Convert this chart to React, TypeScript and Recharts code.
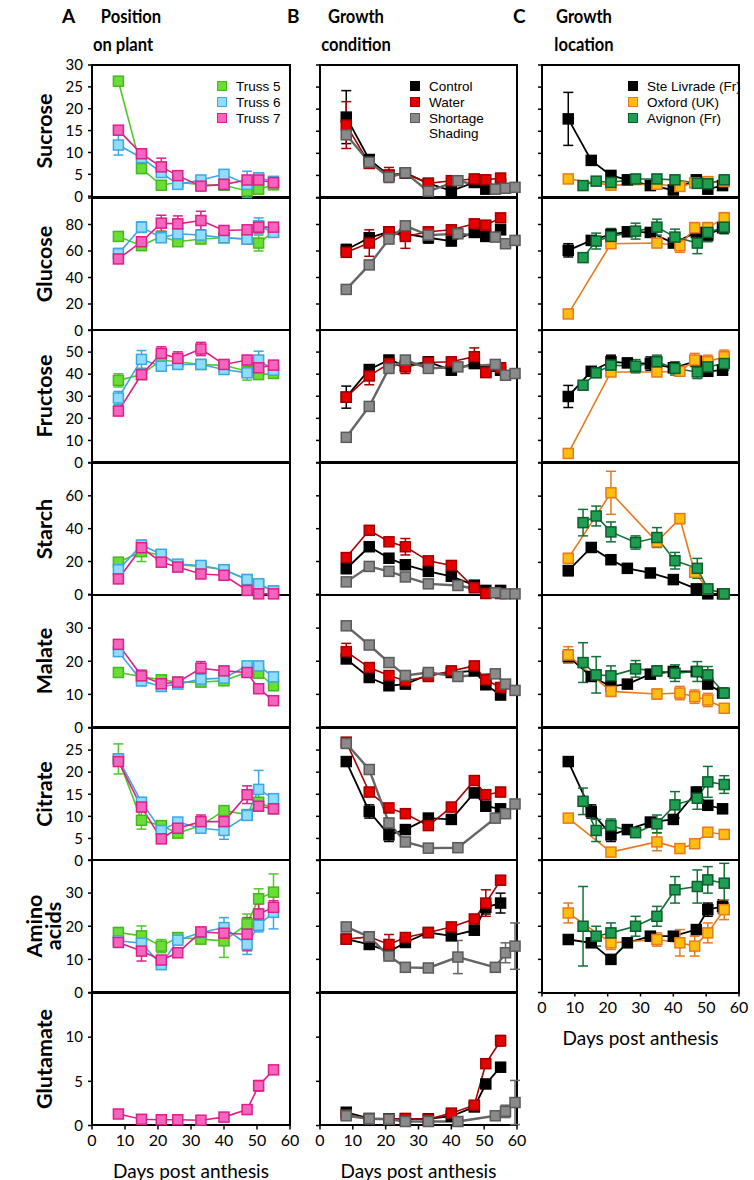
import React from "react";
import { LineChart, Line, XAxis, YAxis, ErrorBar } from "recharts";

// sampling days
const daysStd = [8, 15, 21, 26, 33, 40, 47, 50.5, 55];
const daysShade = [8, 15, 21, 26, 33, 42, 53.4, 56.5, 59.4];
const daysOxford = [8, 21, 35, 42, 46.5, 50.5, 55.5];
const daysAvignon = [12.5, 16.5, 21, 28.5, 35, 40.5, 47.3, 50.5, 55.5];

// axis ticks
const xTicks = [0, 10, 20, 30, 40, 50, 60];
const sucTicks = [0, 5, 10, 15, 20, 25, 30];
const gluTicks = [0, 20, 40, 60, 80, 100];
const fruTicks = [0, 10, 20, 30, 40, 50, 60];
const staTicks = [0, 20, 40, 60, 80];
const malTicks = [0, 10, 20, 30, 40];
const citTicks = [0, 5, 10, 15, 20, 25, 30];
const amiTicks = [0, 10, 20, 30, 40];
const gltTicks = [0, 5, 10, 15];

// A - position on plant
const sucT5 = [26.3, 6.3, 2.5, 3.2, 2.6, 2.5, 1.2, 1.6, 2.6];
const sucT6 = [11.7, 8.8, 5.4, 2.7, 3.7, 5.0, 2.7, 4.2, 3.4];
const sucT7 = [15.1, 9.7, 6.7, 4.7, 2.3, 2.7, 3.7, 3.7, 3.1];
const sucT5E = [0.8, 0.8, 0.5, 0.5, 0.5, 0.5, 0.8, 0.5, 0.5];
const sucT6E = [2.3, 1, 1, 0.5, 1, 1, 3, 1, 1];
const sucT7E = [0.8, 0.8, 2, 0.8, 0.8, 0.8, 0.8, 0.8, 0.8];
const gluT5 = [71, 64, 71, 67, 69, 70, 69, 66, 74.5];
const gluT6 = [58, 78, 70, 73, 72, 70, 69, 79, 74];
const gluT7 = [54, 67, 81, 80.5, 83, 75.5, 76, 78, 78];
const gluT5E = [3, 3, 3, 3, 3, 3, 3, 6, 3];
const gluT6E = [4, 4, 3, 3, 3, 3, 3, 6, 3];
const gluT7E = [3, 3, 6, 6, 7, 3, 3, 4, 3];
const fruT5 = [37.2, 39.8, 46.4, 45.6, 44.4, 44, 41.3, 39.8, 40.3];
const fruT6 = [29.2, 46.7, 43.6, 44.4, 44.4, 42.1, 40.6, 46.4, 41.8];
const fruT7 = [23.3, 39.8, 49.4, 47.1, 51.4, 44.4, 46.4, 42.9, 44.1];
const fruT5E = [3, 2, 2, 2, 2, 2, 4, 2, 2];
const fruT6E = [3, 4, 2, 2, 2, 2, 2, 4, 2];
const fruT7E = [2, 2, 3, 3, 3, 2, 2, 2, 2];
const staT5 = [19.6, 26, 24, 18, 17, 15, 9, 6, 2];
const staT6 = [15, 30, 24.4, 18.4, 17.6, 15, 9, 6.4, 2];
const staT7 = [9.4, 28.4, 19.6, 16.6, 12.4, 11.6, 2.4, 0.3, 0.3];
const staT5E = [2, 6, 2, 2, 2, 2, 2, 2, 1];
const staT6E = [2, 3, 2, 2, 2, 2, 2, 2, 1];
const staT7E = [2, 3, 2, 2, 2, 3, 2, 1, 1];
const malT5 = [16.6, 15.4, 14.4, 13.7, 13.7, 14.1, 16.7, 16.4, 12.6];
const malT6 = [22.9, 14.1, 12.4, 13.1, 14.6, 14.9, 18.6, 18.6, 15.3];
const malT7 = [25.1, 15.6, 13.2, 13.7, 17.9, 17.1, 16.6, 11.7, 8.1];
const malT5E = [1, 2, 1, 1, 1, 1, 1, 1, 1];
const malT6E = [1, 1.5, 1.5, 1, 1, 1, 1, 1, 1];
const malT7E = [1, 1, 1, 1, 2, 1, 1, 1, 1];
const citT5 = [23, 9.1, 7.9, 6.2, 7.9, 11.3, 10.4, 13.2, 11.7];
const citT6 = [23, 13.2, 6.8, 8.7, 7.3, 6.8, 10.2, 16.1, 14];
const citT7 = [22.4, 12.1, 4.9, 7.3, 8.8, 8.8, 14.9, 12.3, 11.7];
const citT5E = [3.4, 2, 1, 1, 1, 1, 1, 1, 1];
const citT6E = [1, 1, 1, 1, 1, 2, 1, 4.3, 1];
const citT7E = [1, 1, 1, 1, 1.5, 1, 2, 1, 1];
const amiT5 = [18.1, 17.1, 14, 16.6, 16.1, 15.6, 20.7, 28.3, 30.3];
const amiT6 = [15.6, 14.9, 8.4, 15.8, 18.1, 19.6, 14.5, 20.3, 24.2];
const amiT7 = [15.1, 12.5, 9.8, 12, 18.3, 17.9, 17.6, 23.7, 25.7];
const amiT5E = [1.5, 3, 2, 1, 1, 5, 3, 3, 5.5];
const amiT6E = [1, 1, 1, 1, 1, 3, 3, 2, 5];
const amiT7E = [1, 3, 1, 1, 1, 1, 5, 3, 2];
const gltT7 = [1.3, 0.7, 0.65, 0.65, 0.6, 0.95, 1.8, 4.5, 6.3];
const gltT7E = [0.2, 0.2, 0.2, 0.2, 0.2, 0.2, 0.3, 0.6, 0.3];

// B - growth condition
const sucCtl = [18.2, 8.6, 5, 5.5, 3.2, 1.5, 3.4, 1.9, 3.1];
const sucWat = [16.4, 7.7, 5.1, 5.6, 3.2, 3.8, 4.2, 4, 4.4];
const sucShd = [14.2, 8, 4.6, 5.6, 1.4, 3.8, 1.9, 2.1, 2.3];
const sucCtlE = [6, 1, 1, 1, 1, 1, 1, 1, 1];
const sucWatE = [5.3, 1, 1.7, 1, 1, 1, 1, 1, 1];
const sucShdE = [1, 1, 1, 1, 1, 1, 1, 1, 1];
const gluCtl = [61, 70, 74.5, 73, 70, 67.5, 74, 71, 76];
const gluWat = [59, 66, 74.5, 71, 74.5, 76, 80.5, 79.5, 85];
const gluShd = [31, 49.5, 69, 79, 72, 73, 70.5, 65.5, 68];
const gluCtlE = [4, 3, 3, 3, 4, 3, 3, 3, 3];
const gluWatE = [3, 10, 3, 9, 3, 3, 3, 3, 3];
const gluShdE = [2, 2, 2, 2, 2, 2, 2, 2, 2];
const fruCtl = [29.6, 42.1, 46.4, 44, 45.6, 41.8, 44.8, 41, 41.8];
const fruWat = [29.6, 39.2, 44.8, 43.3, 45.3, 45.6, 47.9, 40.7, 42.9];
const fruShd = [11.4, 25.4, 42.6, 46.4, 42.6, 43.3, 44.4, 39.5, 40.3];
const fruCtlE = [5, 2, 2, 2, 2, 2, 2, 2, 2];
const fruWatE = [2, 4, 2, 3, 2, 2, 4, 2, 2];
const fruShdE = [1, 1, 1, 1, 1, 1, 1, 1, 1];
const staCtl = [15.6, 29, 22, 18, 14, 11, 5.6, 2.4, 2.4];
const staWat = [22.4, 39, 32, 29, 20.4, 17.6, 4, 0.5, 0.5];
const staShd = [7.6, 17, 14, 10.6, 6.4, 5.4, 1, 0.3, 0.3];
const staCtlE = [2, 2, 2, 2, 2, 2, 2, 1, 1];
const staWatE = [2, 2, 2, 5, 2, 2, 1, 1, 1];
const staShdE = [1, 1, 1, 1, 1, 1, 1, 1, 1];
const malCtl = [20.7, 15.1, 12.6, 13.1, 15.9, 16.6, 17.1, 12.9, 9.8];
const malWat = [22.9, 18.1, 15.7, 14.1, 15.4, 17.1, 18.6, 14.4, 12.1];
const malShd = [30.7, 24.9, 19.6, 15.7, 16.6, 15.4, 16.2, 13.1, 11.2];
const malCtlE = [1, 1, 1, 1, 1, 1, 1, 1, 1];
const malWatE = [2.5, 1, 1, 1, 1, 1, 1, 1.5, 1];
const malShdE = [1, 1, 1, 1, 1, 1, 1, 1, 1];
const citCtl = [22.4, 11.1, 5.8, 7, 9.6, 9.3, 15.3, 12.3, 11.7];
const citWat = [26.8, 15.5, 11.9, 10.6, 7.9, 12.1, 18.1, 14.9, 15.5];
const citShd = [26.5, 20.6, 8.5, 4.2, 2.8, 2.9, 9.6, 10.6, 12.8];
const citCtlE = [1, 1.5, 1.5, 1, 1, 1, 1, 1, 1];
const citWatE = [1, 1, 1, 1, 1, 1, 1, 1, 1];
const citShdE = [1, 1, 1, 1, 1, 1, 1, 1, 1];
const amiCtl = [16.1, 14.5, 12.3, 15.1, 18.1, 17.1, 18.8, 25.7, 27];
const amiWat = [16.1, 16.8, 14.5, 16.6, 18.1, 19.8, 22.2, 27, 33.9];
const amiShd = [19.8, 16.8, 11, 7.6, 7.4, 10.7, 7.6, 12, 14];
const amiCtlE = [1, 1, 1, 1, 1, 1, 1, 2, 3];
const amiWatE = [1, 1, 3, 1, 1, 1, 1, 4, 1];
const amiShdE = [1, 1, 1, 1, 1, 5, 1, 3, 7];
const gltCtl = [1.5, 0.8, 0.75, 0.75, 0.75, 1.05, 2.1, 4.7, 6.6];
const gltWat = [1.2, 0.75, 0.7, 0.8, 0.7, 1.4, 2.3, 7, 9.6];
const gltShd = [1.1, 0.75, 0.7, 0.45, 0.45, 0.45, 1.1, 1.6, 2.6];
const gltCtlE = [0.2, 0.2, 0.2, 0.2, 0.2, 0.2, 0.2, 0.4, 0.2];
const gltWatE = [0.2, 0.2, 0.2, 0.2, 0.2, 0.2, 0.3, 0.5, 0.6];
const gltShdE = [0.2, 0.2, 0.2, 0.2, 0.2, 0.2, 0.2, 0.7, 2.5];

// C - growth location
const sucSL = [17.8, 8.4, 5, 4, 2.7, 1.7, 4, 1.9, 2.7];
const sucOx = [4.2, 2.8, 3.0, 2.5, 3.3, 3.6, 3.6];
const sucAv = [2.7, 3.7, 3.4, 4.2, 4.2, 4, 3.2, 3.1, 4];
const sucSLE = [6, 1, 1, 1, 1, 1, 1, 1, 1];
const sucOxE = [0.8, 0.8, 0.8, 0.8, 0.8, 0.8, 0.8];
const sucAvE = [0.8, 0.8, 0.8, 0.8, 0.8, 0.8, 0.8, 0.8, 0.8];
const gluSL = [60.5, 68, 72.5, 74.5, 74, 66, 74, 72, 77.5];
const gluOx = [12.5, 65.5, 66, 64, 77.5, 77.5, 85];
const gluAv = [55, 67.5, 71, 75, 78, 70.5, 66, 74, 78];
const gluSLE = [5, 3, 3, 3, 3, 3, 3, 3, 3];
const gluOxE = [2, 3, 3, 5, 4, 4, 4];
const gluAvE = [3, 6, 6, 6, 6, 6, 8, 7, 5];
const fruSL = [29.9, 41.3, 45.6, 45.1, 44.8, 42.9, 45.9, 41.3, 41.8];
const fruOx = [4.1, 41, 41, 41.3, 46.4, 45.6, 47.9];
const fruAv = [35, 40.6, 44.1, 43.6, 45.6, 42.6, 41, 43.3, 44.8];
const fruSLE = [5, 2, 3, 2, 3, 2, 2, 2, 2];
const fruOxE = [1, 2, 2, 2, 3, 3, 3];
const fruAvE = [2, 2, 3, 3, 3, 3, 3, 3, 3];
const staSL = [15, 29, 21.6, 16.4, 13.6, 9.6, 4, 1, 1];
const staOx = [22.4, 62, 32.4, 46.4, 14, 4, 1];
const staAv = [44, 48, 38.4, 32, 35, 21, 16.4, 4, 1];
const staSLE = [3, 2, 2, 2, 2, 2, 2, 1, 1];
const staOxE = [3, 13, 3, 3, 3, 2, 1];
const staAvE = [8, 6, 6, 4, 6, 5, 6, 2, 1];
const malSL = [21.4, 15.4, 12.4, 13.1, 16.1, 16.9, 16.9, 13.1, 10.4];
const malOx = [21.9, 10.9, 10.1, 10.4, 9.3, 8.3, 5.8];
const malAv = [19.6, 15.9, 15.6, 17.7, 17.1, 16.4, 16.9, 15.9, 10.4];
const malSLE = [2, 1, 1, 1, 1, 1, 1, 1, 1];
const malOxE = [2.5, 1.5, 1.5, 2, 2, 2, 1];
const malAvE = [6, 5.5, 3, 2.5, 1.5, 2.5, 3, 2.5, 1];
const citSL = [22.4, 11.1, 5.8, 7, 8.7, 9.3, 15.5, 12.5, 11.7];
const citOx = [9.6, 1.9, 4.2, 2.7, 3.8, 6.4, 5.9];
const citAv = [13.4, 6.8, 7.9, 6.3, 8.3, 12.6, 14.1, 17.8, 17.2];
const citSLE = [1, 1.5, 1.5, 1, 1, 1, 1, 1, 1];
const citOxE = [1, 1, 2, 1, 1, 1, 1];
const citAvE = [3, 2.5, 1.5, 1, 2, 3, 2.5, 3.5, 2];
const amiSL = [16, 15, 10, 15, 17, 17, 19, 25, 26];
const amiOx = [24, 15, 16, 15, 14, 18, 25];
const amiAv = [20, 17, 18, 20, 23, 31, 32, 34, 33];
const amiSLE = [1, 1, 1, 1, 1, 1, 1, 2, 2];
const amiOxE = [3, 2, 2, 4, 3, 3, 3];
const amiAvE = [12, 3, 3, 3, 3, 4, 5, 4, 6];

type Sty = { fill: string; edge: string; line: string; lw: number };
const truss5: Sty = { fill: "#6ade35", edge: "#45b821", line: "#52c72a", lw: 1.6 };
const truss6: Sty = { fill: "#8fdcfb", edge: "#3fa6e6", line: "#3fa6e6", lw: 1.6 };
const truss7: Sty = { fill: "#f465bd", edge: "#dd1f8c", line: "#dd1f8c", lw: 1.6 };
const control: Sty = { fill: "#000000", edge: "#000000", line: "#000000", lw: 1.8 };
const water: Sty = { fill: "#e80000", edge: "#a00000", line: "#a80000", lw: 1.6 };
const shading: Sty = { fill: "#8a8a8a", edge: "#5a5a5a", line: "#666666", lw: 2.4 };
const steLiv: Sty = { fill: "#000000", edge: "#000000", line: "#000000", lw: 1.8 };
const oxford: Sty = { fill: "#ffbd10", edge: "#e87a1c", line: "#e87a1c", lw: 1.6 };
const avignon: Sty = { fill: "#1f9e52", edge: "#0c5e2c", line: "#127038", lw: 1.6 };

type Ser = { sty: Sty; data: { day: number; v: number; e: number }[] };
const ser = (days: number[], vals: number[], errs: number[], sty: Sty): Ser => ({
  sty,
  data: days.map((d, i) => ({ day: d, v: vals[i], e: errs[i] })),
});

const rows = [
  { name: "Sucrose", max: 30, ticks: sucTicks, top: true },
  { name: "Glucose", max: 100, ticks: gluTicks, top: false },
  { name: "Fructose", max: 60, ticks: fruTicks, top: false },
  { name: "Starch", max: 80, ticks: staTicks, top: false },
  { name: "Malate", max: 40, ticks: malTicks, top: false },
  { name: "Citrate", max: 30, ticks: citTicks, top: false },
  { name: "Amino acids", max: 40, ticks: amiTicks, top: false },
  { name: "Glutamate", max: 15, ticks: gltTicks, top: false },
];

const colA: Ser[][] = [
  [ser(daysStd, sucT5, sucT5E, truss5), ser(daysStd, sucT6, sucT6E, truss6), ser(daysStd, sucT7, sucT7E, truss7)],
  [ser(daysStd, gluT5, gluT5E, truss5), ser(daysStd, gluT6, gluT6E, truss6), ser(daysStd, gluT7, gluT7E, truss7)],
  [ser(daysStd, fruT5, fruT5E, truss5), ser(daysStd, fruT6, fruT6E, truss6), ser(daysStd, fruT7, fruT7E, truss7)],
  [ser(daysStd, staT5, staT5E, truss5), ser(daysStd, staT6, staT6E, truss6), ser(daysStd, staT7, staT7E, truss7)],
  [ser(daysStd, malT5, malT5E, truss5), ser(daysStd, malT6, malT6E, truss6), ser(daysStd, malT7, malT7E, truss7)],
  [ser(daysStd, citT5, citT5E, truss5), ser(daysStd, citT6, citT6E, truss6), ser(daysStd, citT7, citT7E, truss7)],
  [ser(daysStd, amiT5, amiT5E, truss5), ser(daysStd, amiT6, amiT6E, truss6), ser(daysStd, amiT7, amiT7E, truss7)],
  [ser(daysStd, gltT7, gltT7E, truss7)],
];

const colB: Ser[][] = [
  [ser(daysStd, sucCtl, sucCtlE, control), ser(daysStd, sucWat, sucWatE, water), ser(daysShade, sucShd, sucShdE, shading)],
  [ser(daysStd, gluCtl, gluCtlE, control), ser(daysStd, gluWat, gluWatE, water), ser(daysShade, gluShd, gluShdE, shading)],
  [ser(daysStd, fruCtl, fruCtlE, control), ser(daysStd, fruWat, fruWatE, water), ser(daysShade, fruShd, fruShdE, shading)],
  [ser(daysStd, staCtl, staCtlE, control), ser(daysStd, staWat, staWatE, water), ser(daysShade, staShd, staShdE, shading)],
  [ser(daysStd, malCtl, malCtlE, control), ser(daysStd, malWat, malWatE, water), ser(daysShade, malShd, malShdE, shading)],
  [ser(daysStd, citCtl, citCtlE, control), ser(daysStd, citWat, citWatE, water), ser(daysShade, citShd, citShdE, shading)],
  [ser(daysStd, amiCtl, amiCtlE, control), ser(daysStd, amiWat, amiWatE, water), ser(daysShade, amiShd, amiShdE, shading)],
  [ser(daysStd, gltCtl, gltCtlE, control), ser(daysStd, gltWat, gltWatE, water), ser(daysShade, gltShd, gltShdE, shading)],
];

const colC: Ser[][] = [
  [ser(daysStd, sucSL, sucSLE, steLiv), ser(daysOxford, sucOx, sucOxE, oxford), ser(daysAvignon, sucAv, sucAvE, avignon)],
  [ser(daysStd, gluSL, gluSLE, steLiv), ser(daysOxford, gluOx, gluOxE, oxford), ser(daysAvignon, gluAv, gluAvE, avignon)],
  [ser(daysStd, fruSL, fruSLE, steLiv), ser(daysOxford, fruOx, fruOxE, oxford), ser(daysAvignon, fruAv, fruAvE, avignon)],
  [ser(daysStd, staSL, staSLE, steLiv), ser(daysOxford, staOx, staOxE, oxford), ser(daysAvignon, staAv, staAvE, avignon)],
  [ser(daysStd, malSL, malSLE, steLiv), ser(daysOxford, malOx, malOxE, oxford), ser(daysAvignon, malAv, malAvE, avignon)],
  [ser(daysStd, citSL, citSLE, steLiv), ser(daysOxford, citOx, citOxE, oxford), ser(daysAvignon, citAv, citAvE, avignon)],
  [ser(daysStd, amiSL, amiSLE, steLiv), ser(daysOxford, amiOx, amiOxE, oxford), ser(daysAvignon, amiAv, amiAvE, avignon)],
];

const cols = [
  {
    x0: 92, w: 198, panels: colA, letter: "A", letterX: 62,
    title: [["Position", 131], ["on plant", 123]],
    legend: [["Truss 5", truss5], ["Truss 6", truss6], ["Truss 7", truss7]],
  },
  {
    x0: 320, w: 197, panels: colB, letter: "B", letterX: 287,
    title: [["Growth", 356], ["condition", 356]],
    legend: [["Control", control], ["Water", water], ["Shortage", shading]],
  },
  {
    x0: 542, w: 197, panels: colC, letter: "C", letterX: 513,
    title: [["Growth", 584], ["location", 584]],
    legend: [["Ste Livrade (Fr)", steLiv], ["Oxford (UK)", oxford], ["Avignon (Fr)", avignon]],
  },
];

const TOP = 65;
const ROW_H = 132.5;
const YW = 45;
const AXIS_FONT = "Lato, 'Open Sans', sans-serif";

const square = (s: Sty) => (p: any) => (
  <rect
    key={`sq-${p.index}`}
    x={p.cx - 5}
    y={p.cy - 5}
    width={10}
    height={10}
    fill={s.fill}
    stroke={s.edge}
    strokeWidth={1.5}
  />
);

function Panel({ col, row, series, bottom }: { col: number; row: number; series: Ser[]; bottom: boolean }) {
  const c = cols[col];
  const r = rows[row];
  const top = TOP + row * ROW_H;
  const xH = 60;
  const h = 10 + ROW_H + (bottom ? xH : 10);
  return (
    <div style={{ position: "absolute", left: c.x0 - YW, top: top - 10 }}>
      <LineChart width={c.w + YW + 15} height={h} margin={{ top: 10, right: 15, bottom: bottom ? 0 : 10, left: 0 }}>
        <XAxis
          type="number"
          dataKey="day"
          domain={[0, 60]}
          ticks={xTicks}
          interval={0}
          hide={!bottom}
          height={xH}
          axisLine={false}
          tickLine={{ stroke: "#000", strokeWidth: 1.5 }}
          tickSize={4}
          tickMargin={5}
          tick={{ fontSize: 16, fill: "#000" }}
          label={{ value: "Days post anthesis", position: "insideBottom", offset: 8, fontSize: 19, fill: "#000" }}
        />
        <YAxis
          type="number"
          domain={[0, r.max]}
          ticks={r.ticks}
          interval={0}
          width={YW}
          axisLine={false}
          tickLine={{ stroke: "#000", strokeWidth: 1.5 }}
          tickSize={4}
          tickMargin={5}
          tick={{ fontSize: 15, fill: "#000" }}
          tickFormatter={(v: number) => (col > 0 || (v === r.max && !r.top) ? "" : String(v))}
        />
        {series.map((s, i) => (
          <Line
            key={i}
            data={s.data}
            dataKey="v"
            type="linear"
            stroke={s.sty.line}
            strokeWidth={s.sty.lw}
            dot={square(s.sty)}
            activeDot={false}
            isAnimationActive={false}
          >
            <ErrorBar dataKey="e" direction="y" width={5} stroke={s.sty.line} strokeWidth={1.5} isAnimationActive={false} />
          </Line>
        ))}
      </LineChart>
    </div>
  );
}

export default function App() {
  return (
    <div style={{ position: "absolute", left: 0, top: 0, width: 754, height: 1180, background: "#fff", fontFamily: AXIS_FONT }}>
      {/* frames */}
      {cols.map((c, ci) => (
        <div key={`f${ci}`}>
          <div
            style={{
              position: "absolute",
              left: c.x0 - 1.25,
              top: TOP - 1.25,
              width: c.w + 2.5,
              height: c.panels.length * ROW_H + 2.5,
              border: "2.5px solid #000",
              boxSizing: "border-box",
            }}
          />
          {c.panels.slice(1).map((_, ri) => (
            <div
              key={ri}
              style={{ position: "absolute", left: c.x0, top: TOP + (ri + 1) * ROW_H - 1.25, width: c.w, height: 2.5, background: "#000" }}
            />
          ))}
        </div>
      ))}

      {/* headers */}
      {cols.map((c, ci) => (
        <div key={`h${ci}`} style={{ fontSize: 19, fontWeight: 700, lineHeight: "24px" }}>
          <div style={{ position: "absolute", left: c.letterX, top: 4 }}>{c.letter}</div>
          {c.title.map(([t, cx]: any, ti: number) => (
            <div
              key={ti}
              style={{
                position: "absolute",
                left: cx - 60,
                width: 120,
                top: 4 + ti * 28,
                textAlign: "center",
                transform: "scaleX(0.87)",
                transformOrigin: "center",
              }}
            >
              {t}
            </div>
          ))}
        </div>
      ))}

      {/* metabolite labels */}
      {rows.map((r, ri) => (
        <div key={`l${ri}`} style={{ position: "absolute", left: 44, top: TOP + ri * ROW_H + ROW_H / 2, width: 0, height: 0 }}>
          <div
            style={{
              position: "absolute",
              transform: "translate(-50%, -50%) rotate(-90deg)",
              fontSize: 21.5,
              fontWeight: 700,
              lineHeight: "19px",
              textAlign: "center",
              whiteSpace: "nowrap",
            }}
          >
            {r.name === "Amino acids" ? (
              <>
                Amino
                <br />
                acids
              </>
            ) : (
              r.name
            )}
          </div>
        </div>
      ))}

      {/* panels */}
      {cols.map((c, ci) =>
        c.panels.map((series, ri) => (
          <Panel key={`p${ci}-${ri}`} col={ci} row={ri} series={series} bottom={ri === c.panels.length - 1} />
        ))
      )}

      {/* legends */}
      {cols.map((c, ci) => {
        const lx = ci === 0 ? 217 : ci === 1 ? 410 : 628;
        return (
          <div key={`g${ci}`} style={{ position: "absolute", left: lx, top: 78, fontFamily: "'Liberation Sans', Arial, sans-serif", fontSize: 13.5 }}>
            {c.legend.map(([label, sty]: any, li: number) => (
              <div key={li} style={{ display: "flex", alignItems: "center", height: 16 }}>
                <div style={{ width: 10, height: 10, background: sty.fill, border: `1.5px solid ${sty.edge}`, boxSizing: "border-box", marginRight: 9 }} />
                <span>{label}</span>
              </div>
            ))}
            {ci === 1 && <div style={{ paddingLeft: 19, lineHeight: "16px" }}>Shading</div>}
          </div>
        );
      })}
    </div>
  );
}
